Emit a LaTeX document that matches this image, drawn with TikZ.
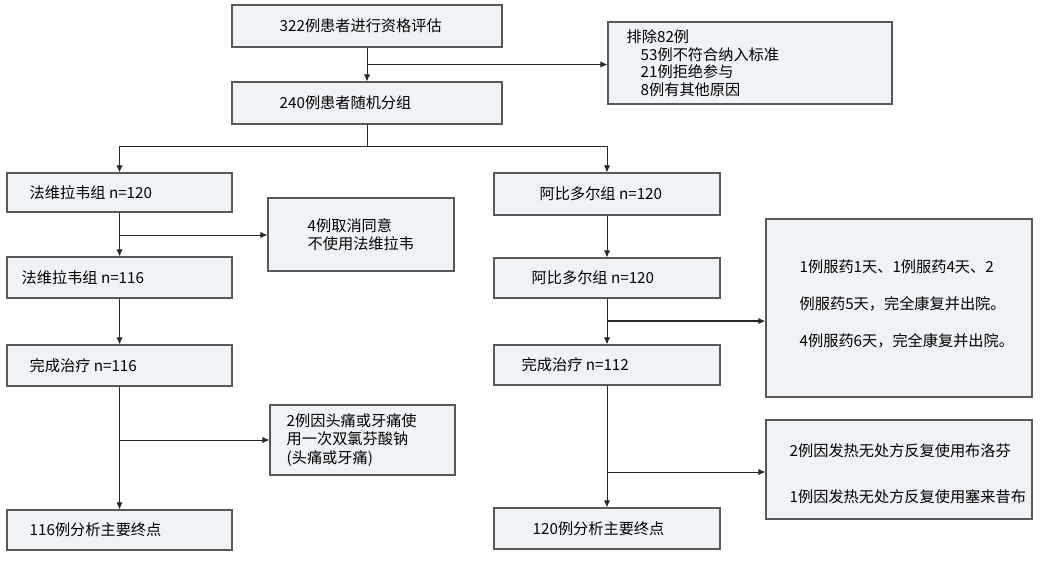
\documentclass[tikz,border=0pt]{standalone}
\usepackage{fontspec}
\setmainfont{Noto Sans CJK SC}
\usetikzlibrary{arrows.meta,calc}
\definecolor{boxfill}{RGB}{240,243,246}
\tikzset{
	box/.style={draw=black!65, fill=boxfill, line width=0.8pt, inner sep=0pt},
	txt/.style={anchor=west, inner sep=0pt, align=left, font=\fontsize{10.8}{13}\selectfont},
	arr/.style={-{Latex[length=5pt,width=4.5pt]}, line width=0.7pt, black!85},
	ln/.style={line width=0.7pt, black!85}
}
\begin{document}
\begin{tikzpicture}[x=0.025cm, y=-0.025cm]
	\useasboundingbox (0,0) rectangle (1059,562);
	% boxes
	\node [box, minimum width=270*0.025cm, minimum height=42*0.025cm] (assess) at (367,26) {};
	\node [box, minimum width=284*0.025cm, minimum height=82*0.025cm] (excl) at (750,63) {};
	\node [box, minimum width=270*0.025cm, minimum height=42*0.025cm] (rand) at (367,103) {};
	\node [box, minimum width=225*0.025cm, minimum height=39*0.025cm] (fav1) at (119.5,192.5) {};
	\node [box, minimum width=225*0.025cm, minimum height=41*0.025cm] (fav2) at (119.5,277.5) {};
	\node [box, minimum width=225*0.025cm, minimum height=41*0.025cm] (fav3) at (119.5,365.5) {};
	\node [box, minimum width=225*0.025cm, minimum height=40*0.025cm] (fav4) at (119.5,530) {};
	\node [box, minimum width=226*0.025cm, minimum height=42*0.025cm] (arb1) at (607,194) {};
	\node [box, minimum width=226*0.025cm, minimum height=40*0.025cm] (arb2) at (607,278) {};
	\node [box, minimum width=226*0.025cm, minimum height=40*0.025cm] (arb3) at (607,365) {};
	\node [box, minimum width=226*0.025cm, minimum height=41*0.025cm] (arb4) at (607,528.5) {};
	\node [box, minimum width=186*0.025cm, minimum height=73*0.025cm] (withdraw) at (361,234.5) {};
	\node [box, minimum width=185*0.025cm, minimum height=70*0.025cm] (favdrug) at (362.5,440) {};
	\node [box, minimum width=266*0.025cm, minimum height=178*0.025cm] (cured) at (899,308) {};
	\node [box, minimum width=266*0.025cm, minimum height=99*0.025cm] (arbdrug) at (899,469.5) {};
	% texts
	\node [txt] (t-assess) at ([xshift=48*0.025cm]assess.west) {322例患者进行资格评估};
	\node [txt, font=\fontsize{10.8}{12.5}\selectfont] (t-excl) at ([xshift=19*0.025cm]excl.west) {排除82例\\\hspace{3.5mm}53例不符合纳入标准\\\hspace{3.5mm}21例拒绝参与\\\hspace{3.5mm}8例有其他原因};
	\node [txt] (t-rand) at ([xshift=48*0.025cm]rand.west) {240例患者随机分组};
	\node [txt] (t-fav1) at ([xshift=23*0.025cm]fav1.west) {法维拉韦组 n=120};
	\node [txt] (t-fav2) at ([xshift=15*0.025cm]fav2.west) {法维拉韦组 n=116};
	\node [txt] (t-fav3) at ([xshift=23*0.025cm]fav3.west) {完成治疗 n=116};
	\node [txt] (t-fav4) at ([xshift=23*0.025cm]fav4.west) {116例分析主要终点};
	\node [txt] (t-arb1) at ([xshift=46*0.025cm]arb1.west) {阿比多尔组 n=120};
	\node [txt] (t-arb2) at ([xshift=38*0.025cm]arb2.west) {阿比多尔组 n=120};
	\node [txt] (t-arb3) at ([xshift=28*0.025cm]arb3.west) {完成治疗 n=112};
	\node [txt] (t-arb4) at ([xshift=39*0.025cm]arb4.west) {120例分析主要终点};
	\node [txt] (t-withdraw) at ([xshift=40*0.025cm]withdraw.west) {4例取消同意\\不使用法维拉韦};
	\node [txt, font=\fontsize{10.8}{13}\selectfont] (t-favdrug) at ([xshift=17*0.025cm]favdrug.west) {2例因头痛或牙痛使\\用一次双氯芬酸钠\\(头痛或牙痛)};
	\node [txt, font=\fontsize{10.8}{26.5}\selectfont] (t-cured) at ([xshift=34*0.025cm,yshift=1mm]cured.west) {1例服药1天、1例服药4天、2\\例服药5天，完全康复并出院。\\4例服药6天，完全康复并出院。};
	\node [txt, font=\fontsize{10.8}{33}\selectfont] (t-arbdrug) at ([xshift=24*0.025cm,yshift=-1mm]arbdrug.west) {2例因发热无处方反复使用布洛芬\\1例因发热无处方反复使用塞来昔布};
	% connectors
	\draw [arr] (assess) -- (rand);
	\coordinate (c-excl) at ($(assess.south)!0.5!(rand.north)$);
	\draw [arr] (c-excl) -- (c-excl -| excl.west);
	\draw [ln] (rand.south) -- ++(0,22) coordinate (split);
	\draw [arr] (split) -| (fav1.north);
	\draw [arr] (split) -| (arb1.north);
	\draw [arr] (fav1) -- (fav2);
	\draw [arr] (fav2) -- (fav3);
	\draw [arr] (fav3) -- (fav4);
	\draw [arr] (arb1) -- (arb2);
	\draw [arr] (arb2) -- (arb3);
	\draw [arr] (arb3) -- (arb4);
	\coordinate (c-withdraw) at (119.5,235);
	\draw [arr] (c-withdraw) -- (c-withdraw -| withdraw.west);
	\coordinate (c-favdrug) at (119.5,440);
	\draw [arr] (c-favdrug) -- (c-favdrug -| favdrug.west);
	\coordinate (c-cured) at (607,321);
	\draw [arr, line width=1.3pt] (c-cured) -- (c-cured -| cured.west);
	\coordinate (c-arbdrug) at (607,472);
	\draw [arr] (c-arbdrug) -- (c-arbdrug -| arbdrug.west);
\end{tikzpicture}
\end{document}
